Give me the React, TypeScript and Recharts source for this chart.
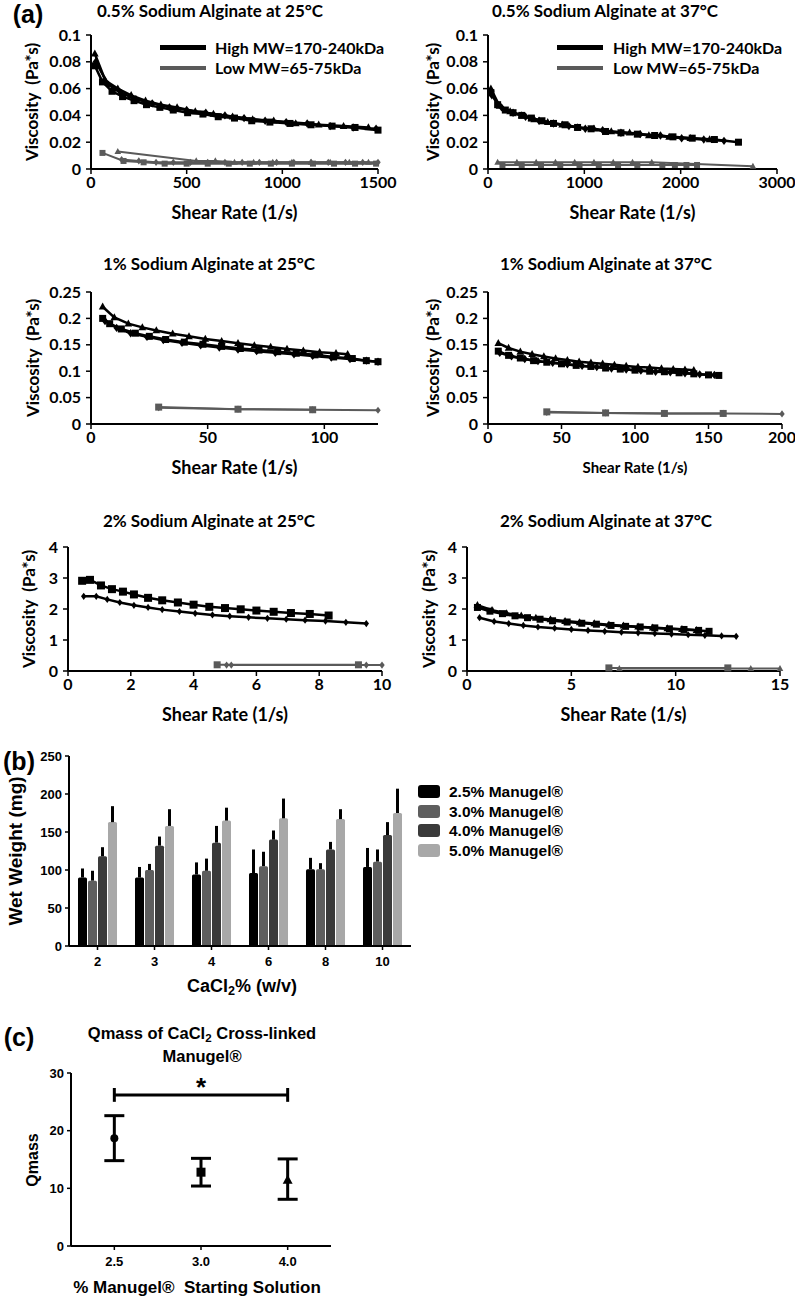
import React from 'react';
import {
  LineChart,
  Line,
  BarChart,
  Bar,
  ScatterChart,
  Scatter,
  XAxis,
  YAxis,
  ErrorBar,
  ReferenceLine,
} from 'recharts';

type Pt = [number, number];

// ---- (a) viscosity vs shear rate ----
// 0.5% at 25°C
const p05_25_hiSq: Pt[] = [[20, 0.077], [60, 0.065], [110, 0.058], [165, 0.054], [225, 0.051], [290, 0.048], [360, 0.046], [430, 0.044], [505, 0.042], [585, 0.041], [665, 0.039], [750, 0.038], [840, 0.036], [935, 0.035], [1040, 0.034], [1150, 0.033], [1260, 0.032], [1380, 0.031], [1500, 0.029]];
const p05_25_hiTri: Pt[] = [[20, 0.086], [75, 0.066], [140, 0.060], [210, 0.055], [285, 0.051], [365, 0.048], [450, 0.046], [545, 0.043], [640, 0.041], [740, 0.039], [845, 0.037], [955, 0.036], [1070, 0.034], [1190, 0.033], [1320, 0.032], [1450, 0.031]];
const p05_25_hiDia: Pt[] = [[25, 0.080], [90, 0.063], [155, 0.057], [235, 0.052], [320, 0.049], [410, 0.046], [500, 0.044], [600, 0.042], [700, 0.040], [800, 0.038], [910, 0.036], [1020, 0.035], [1130, 0.034], [1250, 0.032], [1370, 0.031], [1490, 0.030]];
const p05_25_loSq: Pt[] = [[60, 0.012], [170, 0.006], [275, 0.005], [385, 0.004], [500, 0.004], [610, 0.004], [720, 0.004], [830, 0.004], [940, 0.004], [1050, 0.004], [1160, 0.004], [1270, 0.004], [1380, 0.004], [1490, 0.004]];
const p05_25_loTri: Pt[] = [[140, 0.013], [550, 0.006], [650, 0.006], [750, 0.005], [850, 0.005], [950, 0.005], [1050, 0.005], [1150, 0.005], [1250, 0.005], [1350, 0.005], [1450, 0.005]];
const p05_25_loDia: Pt[] = [[160, 0.007], [250, 0.006], [340, 0.005], [430, 0.005], [520, 0.005], [610, 0.005], [700, 0.005], [790, 0.005], [880, 0.005], [970, 0.005], [1060, 0.005], [1150, 0.005], [1240, 0.005], [1330, 0.005], [1420, 0.005], [1500, 0.005]];

// 0.5% at 37°C
const p05_37_hiSq: Pt[] = [[30, 0.057], [100, 0.048], [180, 0.044], [260, 0.042], [350, 0.040], [450, 0.038], [560, 0.036], [680, 0.034], [800, 0.033], [930, 0.031], [1070, 0.030], [1220, 0.028], [1380, 0.027], [1550, 0.026], [1730, 0.025], [1920, 0.024], [2120, 0.023], [2350, 0.022], [2600, 0.020]];
const p05_37_hiTri: Pt[] = [[30, 0.060], [120, 0.047], [230, 0.043], [350, 0.040], [480, 0.037], [620, 0.035], [770, 0.033], [930, 0.031], [1100, 0.030], [1280, 0.028], [1470, 0.027], [1670, 0.025], [1880, 0.024], [2100, 0.023], [2300, 0.022]];
const p05_37_hiDia: Pt[] = [[40, 0.055], [140, 0.046], [260, 0.042], [390, 0.039], [530, 0.036], [680, 0.034], [840, 0.032], [1010, 0.030], [1190, 0.029], [1380, 0.027], [1580, 0.026], [1790, 0.025], [2010, 0.023], [2240, 0.022], [2450, 0.021]];
const p05_37_loTri: Pt[] = [[100, 0.005], [300, 0.005], [500, 0.005], [700, 0.005], [900, 0.005], [1100, 0.005], [1300, 0.005], [1500, 0.005], [1700, 0.005], [2750, 0.002]];
const p05_37_loSq: Pt[] = [[150, 0.003], [350, 0.003], [550, 0.003], [750, 0.003], [950, 0.003], [1150, 0.003], [1350, 0.003], [1550, 0.003], [1810, 0.003], [1940, 0.003], [2060, 0.003], [2170, 0.003]];

// 1% at 25°C
const p1_25_hiTri: Pt[] = [[5, 0.222], [10, 0.202], [16, 0.190], [22, 0.183], [28, 0.177], [35, 0.171], [42, 0.166], [49, 0.161], [56, 0.157], [63, 0.153], [70, 0.149], [77, 0.146], [84, 0.142], [91, 0.139], [98, 0.136], [105, 0.134], [110, 0.132]];
const p1_25_hiSq: Pt[] = [[5, 0.200], [8, 0.190], [13, 0.180], [19, 0.172], [25, 0.166], [32, 0.160], [40, 0.155], [48, 0.151], [56, 0.147], [64, 0.143], [72, 0.140], [80, 0.137], [88, 0.134], [96, 0.131], [104, 0.127], [112, 0.124], [118, 0.120], [123, 0.118]];
const p1_25_hiDia: Pt[] = [[6, 0.195], [11, 0.182], [17, 0.172], [24, 0.165], [31, 0.159], [39, 0.154], [47, 0.149], [55, 0.145], [63, 0.141], [71, 0.138], [79, 0.135], [87, 0.132], [95, 0.129], [103, 0.126], [111, 0.123], [118, 0.120], [123, 0.118]];
const p1_25_loSq: Pt[] = [[29, 0.032], [63, 0.028], [95, 0.027]];
const p1_25_loDia: Pt[] = [[29, 0.031], [63, 0.028], [95, 0.027], [123, 0.026]];

// 1% at 37°C
const p1_37_hiTri: Pt[] = [[7, 0.153], [14, 0.144], [22, 0.137], [30, 0.132], [38, 0.128], [46, 0.124], [54, 0.121], [62, 0.118], [70, 0.116], [78, 0.114], [86, 0.112], [94, 0.110], [102, 0.108], [110, 0.107], [118, 0.105], [126, 0.104], [134, 0.103], [140, 0.102]];
const p1_37_hiSq: Pt[] = [[7, 0.138], [14, 0.130], [22, 0.125], [31, 0.120], [40, 0.117], [50, 0.114], [60, 0.111], [70, 0.109], [80, 0.106], [90, 0.104], [100, 0.102], [110, 0.100], [120, 0.099], [130, 0.097], [140, 0.095], [150, 0.093], [157, 0.092]];
const p1_37_hiDia: Pt[] = [[8, 0.135], [16, 0.128], [25, 0.123], [34, 0.119], [44, 0.116], [54, 0.113], [64, 0.110], [74, 0.108], [84, 0.105], [94, 0.103], [104, 0.101], [114, 0.099], [124, 0.098], [134, 0.096], [144, 0.094], [154, 0.093]];
const p1_37_loSq: Pt[] = [[40, 0.023], [80, 0.021], [120, 0.020], [160, 0.020]];
const p1_37_loDia: Pt[] = [[40, 0.022], [80, 0.021], [120, 0.020], [160, 0.020], [200, 0.019]];

// 2% at 25°C
const p2_25_hiSq: Pt[] = [[0.45, 2.91], [0.7, 2.94], [1.05, 2.76], [1.4, 2.64], [1.75, 2.56], [2.1, 2.47], [2.55, 2.36], [3.0, 2.28], [3.5, 2.21], [4.0, 2.14], [4.5, 2.07], [5.0, 2.03], [5.5, 1.99], [6.0, 1.95], [6.55, 1.91], [7.1, 1.87], [7.7, 1.84], [8.3, 1.79]];
const p2_25_hiDia: Pt[] = [[0.5, 2.41], [0.9, 2.41], [1.25, 2.31], [1.65, 2.21], [2.1, 2.12], [2.55, 2.05], [3.0, 1.98], [3.55, 1.92], [4.05, 1.86], [4.6, 1.81], [5.15, 1.77], [5.75, 1.73], [6.35, 1.70], [6.95, 1.67], [7.55, 1.64], [8.2, 1.61], [8.85, 1.57], [9.5, 1.53]];
const p2_25_loSq: Pt[] = [[4.75, 0.2], [9.25, 0.2]];
const p2_25_loDia: Pt[] = [[5.05, 0.19], [5.2, 0.19], [9.5, 0.19], [10, 0.19]];

// 2% at 37°C
const p2_37_hiSq: Pt[] = [[0.5, 2.05], [1.1, 1.93], [1.7, 1.85], [2.3, 1.78], [2.9, 1.72], [3.5, 1.67], [4.1, 1.62], [4.8, 1.58], [5.5, 1.54], [6.2, 1.51], [6.9, 1.47], [7.6, 1.44], [8.3, 1.42], [9.0, 1.39], [9.7, 1.36], [10.4, 1.34], [11.1, 1.31], [11.6, 1.28]];
const p2_37_hiTri: Pt[] = [[0.5, 2.12], [1.2, 1.96], [1.9, 1.86], [2.6, 1.78], [3.3, 1.71], [4.0, 1.66], [4.7, 1.61], [5.4, 1.57], [6.1, 1.53], [6.8, 1.49], [7.5, 1.46], [8.2, 1.43], [8.9, 1.40], [9.6, 1.37], [10.3, 1.35], [11.0, 1.32]];
const p2_37_hiDia: Pt[] = [[0.6, 1.72], [1.3, 1.60], [2.0, 1.53], [2.7, 1.47], [3.4, 1.42], [4.2, 1.38], [5.0, 1.34], [5.8, 1.31], [6.6, 1.28], [7.4, 1.25], [8.2, 1.23], [9.0, 1.21], [9.8, 1.19], [10.6, 1.17], [11.4, 1.15], [12.2, 1.13], [12.9, 1.12]];
const p2_37_loSq: Pt[] = [[6.8, 0.1], [12.5, 0.1]];
const p2_37_loTri: Pt[] = [[7.3, 0.08], [13.6, 0.08], [15, 0.08]];

const visc05Ticks = [0, 0.02, 0.04, 0.06, 0.08, 0.1];
const visc1Ticks = [0, 0.05, 0.1, 0.15, 0.2, 0.25];
const visc2Ticks = [0, 1, 2, 3, 4];

// ---- (b) wet weight ----
const cacl2Cats = ['2', '3', '4', '6', '8', '10'];
const wet25 = [90, 90, 94, 96, 101, 104];
const wet25Err = [12, 14, 16, 31, 15, 25];
const wet30 = [86, 100, 99, 105, 101, 111];
const wet30Err = [13, 8, 16, 19, 8, 16];
const wet40 = [118, 132, 136, 140, 127, 146];
const wet40Err = [12, 12, 22, 12, 10, 17];
const wet50 = [163, 158, 165, 168, 167, 175];
const wet50Err = [21, 22, 17, 26, 13, 32];
const wetTicks = [0, 50, 100, 150, 200, 250];

// ---- (c) Qmass ----
const qmassLabels = ['2.5', '3.0', '4.0'];
const qmassMean = [18.7, 12.8, 11.4];
const qmassLow = [14.8, 10.4, 8.1];
const qmassHigh = [22.6, 15.2, 15.1];
const qmassTicks = [0, 10, 20, 30];
const sigLevel = 26.2;
const sigCapLow = 25.0;
const sigCapHigh = 27.4;

const FONT_A = 'Lato, "Open Sans", sans-serif';
const FONT_B = '"Liberation Sans", Arial, sans-serif';
const HI = '#000000';
const LO = '#5a5a5a';

type Shape = 'square' | 'triangle' | 'diamond' | 'circle';

const Mark = ({ cx, cy, shape, fill, size }: { cx?: number; cy?: number; shape: Shape; fill: string; size: number }) => {
  if (cx == null || cy == null) return <g />;
  const s = size;
  if (shape === 'square') return <rect x={cx - s / 2} y={cy - s / 2} width={s} height={s} fill={fill} />;
  if (shape === 'circle') return <circle cx={cx} cy={cy} r={s / 2} fill={fill} />;
  if (shape === 'triangle')
    return <polygon points={`${cx},${cy - s * 0.6} ${cx - s * 0.55},${cy + s * 0.4} ${cx + s * 0.55},${cy + s * 0.4}`} fill={fill} />;
  return <polygon points={`${cx},${cy - s * 0.6} ${cx + s * 0.45},${cy} ${cx},${cy + s * 0.6} ${cx - s * 0.45},${cy}`} fill={fill} />;
};

interface Series {
  pts: Pt[];
  color: string;
  width: number;
  shape: Shape;
  size: number;
}

interface PanelDef {
  id: string;
  title: string;
  titleX: number;
  titleY: number;
  rect: { x0: number; x1: number; y0: number; y1: number };
  xMax: number;
  xTicks: number[];
  yMax: number;
  yTicks: number[];
  yLabelX: number;
  xLabelSize: number;
  legend?: { lineX: number; textX: number };
  series: Series[];
}

const hi = (pts: Pt[], shape: Shape, size = 7): Series => ({ pts, color: HI, width: 2.5, shape, size });
const lo = (pts: Pt[], shape: Shape, size = 6): Series => ({ pts, color: LO, width: 2, shape, size });

const panels: PanelDef[] = [
  {
    id: 'p05_25', title: '0.5% Sodium Alginate at 25°C', titleX: 210, titleY: 10,
    rect: { x0: 91, x1: 378, y0: 35, y1: 169 }, xMax: 1500, xTicks: [0, 500, 1000, 1500],
    yMax: 0.1, yTicks: visc05Ticks, yLabelX: 31, xLabelSize: 18, legend: { lineX: 160, textX: 215 },
    series: [lo(p05_25_loDia, 'diamond'), lo(p05_25_loSq, 'square'), lo(p05_25_loTri, 'triangle'),
      hi(p05_25_hiDia, 'diamond'), hi(p05_25_hiSq, 'square'), hi(p05_25_hiTri, 'triangle')],
  },
  {
    id: 'p05_37', title: '0.5% Sodium Alginate at 37°C', titleX: 605, titleY: 10,
    rect: { x0: 488, x1: 777, y0: 35, y1: 169 }, xMax: 3000, xTicks: [0, 1000, 2000, 3000],
    yMax: 0.1, yTicks: visc05Ticks, yLabelX: 432, xLabelSize: 18, legend: { lineX: 557, textX: 613 },
    series: [lo(p05_37_loSq, 'square'), lo(p05_37_loTri, 'triangle'),
      hi(p05_37_hiDia, 'diamond'), hi(p05_37_hiSq, 'square'), hi(p05_37_hiTri, 'triangle')],
  },
  {
    id: 'p1_25', title: '1% Sodium Alginate at 25°C', titleX: 209, titleY: 263,
    rect: { x0: 91, x1: 378, y0: 292, y1: 424 }, xMax: 123, xTicks: [0, 50, 100],
    yMax: 0.25, yTicks: visc1Ticks, yLabelX: 32, xLabelSize: 18,
    series: [lo(p1_25_loDia, 'diamond'), lo(p1_25_loSq, 'square', 7),
      hi(p1_25_hiDia, 'diamond'), hi(p1_25_hiSq, 'square'), hi(p1_25_hiTri, 'triangle')],
  },
  {
    id: 'p1_37', title: '1% Sodium Alginate at 37°C', titleX: 606, titleY: 263,
    rect: { x0: 488, x1: 782, y0: 292, y1: 424 }, xMax: 200, xTicks: [0, 50, 100, 150, 200],
    yMax: 0.25, yTicks: visc1Ticks, yLabelX: 432, xLabelSize: 15,
    series: [lo(p1_37_loDia, 'diamond'), lo(p1_37_loSq, 'square', 7),
      hi(p1_37_hiDia, 'diamond'), hi(p1_37_hiSq, 'square'), hi(p1_37_hiTri, 'triangle')],
  },
  {
    id: 'p2_25', title: '2% Sodium Alginate at 25°C', titleX: 209, titleY: 520,
    rect: { x0: 68, x1: 382, y0: 547, y1: 671 }, xMax: 10, xTicks: [0, 2, 4, 6, 8, 10],
    yMax: 4, yTicks: visc2Ticks, yLabelX: 28, xLabelSize: 18,
    series: [lo(p2_25_loDia, 'diamond'), lo(p2_25_loSq, 'square', 7),
      hi(p2_25_hiDia, 'diamond', 6), hi(p2_25_hiSq, 'square', 8)],
  },
  {
    id: 'p2_37', title: '2% Sodium Alginate at 37°C', titleX: 606, titleY: 520,
    rect: { x0: 467, x1: 780, y0: 547, y1: 671 }, xMax: 15, xTicks: [0, 5, 10, 15],
    yMax: 4, yTicks: visc2Ticks, yLabelX: 428, xLabelSize: 18,
    series: [lo(p2_37_loTri, 'triangle'), lo(p2_37_loSq, 'square', 7),
      hi(p2_37_hiDia, 'diamond', 6), hi(p2_37_hiSq, 'square'), hi(p2_37_hiTri, 'triangle')],
  },
];

const toPts = (arr: Pt[]) => arr.map(([x, y]) => ({ x, y }));

// absolutely placed text, centred on (x, y)
const Txt: React.FC<{ x: number; y: number; size: number; family: string; weight?: number; rotate?: boolean; children: React.ReactNode }> = ({
  x, y, size, family, weight = 700, rotate = false, children,
}) => (
  <div
    style={{
      position: 'absolute', left: x, top: y, whiteSpace: 'pre', lineHeight: 1,
      fontSize: size, fontFamily: family, fontWeight: weight, color: '#000',
      transform: `translate(-50%, -50%)${rotate ? ' rotate(-90deg)' : ''}`,
    }}
  >
    {children}
  </div>
);

const PL = 70;
const PT = 12;
const PR = 32;
const PB = 34;

const axisA = { stroke: '#000', strokeWidth: 2 };
const tickA = { fill: '#000', fontSize: 16, fontWeight: 700, fontFamily: FONT_A };

const ViscPanel: React.FC<{ p: PanelDef }> = ({ p }) => {
  const { rect } = p;
  const w = rect.x1 - rect.x0 + PL + PR;
  const h = rect.y1 - rect.y0 + PT + PB;
  const midX = (rect.x0 + rect.x1) / 2;
  const midY = (rect.y0 + rect.y1) / 2;
  return (
    <>
      <Txt x={p.titleX} y={p.titleY} size={17} family={FONT_A}>{p.title}</Txt>
      <Txt x={p.yLabelX} y={midY} size={17} family={FONT_A} rotate>{'Viscosity  (Pa*s)'}</Txt>
      <Txt x={midX} y={rect.y1 + 43} size={p.xLabelSize} family={FONT_A}>Shear Rate (1/s)</Txt>
      <div style={{ position: 'absolute', left: rect.x0 - PL, top: rect.y0 - PT }}>
        <LineChart width={w} height={h} margin={{ top: PT, right: PR, left: 0, bottom: 0 }}>
          <XAxis type="number" dataKey="x" domain={[0, p.xMax]} ticks={p.xTicks} interval={0} height={PB}
            axisLine={axisA} tickLine={{ stroke: '#000', strokeWidth: 1.5 }} tickSize={5} tickMargin={3} tick={tickA} />
          <YAxis type="number" domain={[0, p.yMax]} ticks={p.yTicks} interval={0} width={PL}
            axisLine={axisA} tickLine={{ stroke: '#000', strokeWidth: 1.5 }} tickSize={5} tickMargin={5} tick={tickA} />
          {p.series.map((s, i) => (
            <Line key={`${p.id}-${i}`} data={toPts(s.pts)} dataKey="y" type="linear" stroke={s.color}
              strokeWidth={s.width} isAnimationActive={false} legendType="none"
              dot={(d: any) => <Mark key={`${p.id}-${i}-${d.index}`} cx={d.cx} cy={d.cy} shape={s.shape} fill={s.color} size={s.size} />}
              activeDot={false} />
          ))}
        </LineChart>
      </div>
      {p.legend && (
        <>
          <div style={{ position: 'absolute', left: p.legend.lineX, top: rect.y0 + 10, width: 46, height: 5, background: HI }} />
          <Txt x={p.legend.textX} y={rect.y0 + 13} size={16} family={FONT_A}>
            <span style={{ position: 'relative', left: '50%' }}>High MW=170-240kDa</span>
          </Txt>
          <div style={{ position: 'absolute', left: p.legend.lineX, top: rect.y0 + 31, width: 46, height: 4, background: LO }} />
          <Txt x={p.legend.textX} y={rect.y0 + 33} size={16} family={FONT_A}>
            <span style={{ position: 'relative', left: '50%' }}>Low MW=65-75kDa</span>
          </Txt>
        </>
      )}
    </>
  );
};

// ---- (b) ----
const wetRows = cacl2Cats.map((c, i) => ({
  cat: c,
  w25: wet25[i], e25: [0, wet25Err[i]],
  w30: wet30[i], e30: [0, wet30Err[i]],
  w40: wet40[i], e40: [0, wet40Err[i]],
  w50: wet50[i], e50: [0, wet50Err[i]],
}));

const wetSeries = [
  { key: 'w25', err: 'e25', name: '2.5% Manugel®', color: '#000000' },
  { key: 'w30', err: 'e30', name: '3.0% Manugel®', color: '#5e5e5e' },
  { key: 'w40', err: 'e40', name: '4.0% Manugel®', color: '#3a3a3a' },
  { key: 'w50', err: 'e50', name: '5.0% Manugel®', color: '#a8a8a8' },
];

const B = { x0: 69, x1: 411, y0: 756, y1: 946 };
const C = { x0: 71, x1: 331, y0: 1073, y1: 1246 };
const tickB = { fill: '#000', fontSize: 13, fontWeight: 700, fontFamily: FONT_B };

const WetWeightChart: React.FC = () => (
  <>
    <div style={{ position: 'absolute', left: B.x0 - 60, top: B.y0 - 10 }}>
      <BarChart width={B.x1 - B.x0 + 64} height={B.y1 - B.y0 + 40} data={wetRows}
        margin={{ top: 10, right: 4, left: 0, bottom: 0 }} barGap={1}>
        <XAxis dataKey="cat" height={30} axisLine={axisA} tickLine={{ stroke: '#000', strokeWidth: 1.5 }}
          tickSize={4} tickMargin={7} tick={tickB} interval={0} />
        <YAxis type="number" domain={[0, 250]} ticks={wetTicks} interval={0} width={60}
          axisLine={axisA} tickLine={{ stroke: '#000', strokeWidth: 1.5 }} tickSize={4} tickMargin={3} tick={tickB} />
        {wetSeries.map((s) => (
          <Bar key={s.key} dataKey={s.key} fill={s.color} barSize={9} radius={[1.5, 1.5, 0, 0]} isAnimationActive={false}>
            <ErrorBar dataKey={s.err} direction="y" width={0} stroke="#000" strokeWidth={3} />
          </Bar>
        ))}
      </BarChart>
    </div>
    {wetSeries.map((s, i) => (
      <React.Fragment key={s.key}>
        <div style={{ position: 'absolute', left: 418, top: 785 + i * 19.7, width: 22, height: 13, borderRadius: 3, background: s.color }} />
        <div style={{ position: 'absolute', left: 449, top: 792 + i * 19.7, transform: 'translateY(-50%)', fontFamily: FONT_B, fontWeight: 700, fontSize: 15.5, lineHeight: 1, whiteSpace: 'pre' }}>
          {s.name}
        </div>
      </React.Fragment>
    ))}
    <Txt x={15} y={851} size={19} family={FONT_B} rotate>Wet Weight (mg)</Txt>
    <Txt x={242} y={987} size={18} family={FONT_B}>
      CaCl<sub style={{ fontSize: '0.7em', verticalAlign: '-0.25em' }}>2</sub>% (w/v)
    </Txt>
  </>
);

// ---- (c) ----
const qShapes: Shape[] = ['circle', 'square', 'triangle'];
const qmassSeries = qmassMean.map((m, i) => [{ i, q: m, err: [m - qmassLow[i], qmassHigh[i] - m] }]);

const QmassChart: React.FC = () => (
  <>
    <Txt x={202} y={1035} size={16.5} family={FONT_B}>
      Qmass of CaCl<sub style={{ fontSize: '0.7em', verticalAlign: '-0.25em' }}>2</sub> Cross-linked
    </Txt>
    <Txt x={202} y={1056} size={16.5} family={FONT_B}>Manugel®</Txt>
    <Txt x={33} y={1160} size={16} family={FONT_B} rotate>Qmass</Txt>
    <Txt x={197} y={1287} size={17} family={FONT_B}>{'% Manugel®  Starting Solution'}</Txt>
    <div style={{ position: 'absolute', left: C.x0 - 60, top: C.y0 - 10 }}>
      <ScatterChart width={C.x1 - C.x0 + 64} height={C.y1 - C.y0 + 40} margin={{ top: 10, right: 4, left: 0, bottom: 0 }}>
        <XAxis type="number" dataKey="i" domain={[-0.5, 2.5]} ticks={[0, 1, 2]} interval={0} height={30}
          tickFormatter={(v: number) => qmassLabels[v]} axisLine={axisA} tickLine={{ stroke: '#000', strokeWidth: 1.5 }}
          tickSize={4} tickMargin={7} tick={tickB} />
        <YAxis type="number" dataKey="q" domain={[0, 30]} ticks={qmassTicks} interval={0} width={60}
          axisLine={axisA} tickLine={{ stroke: '#000', strokeWidth: 1.5 }} tickSize={4} tickMargin={3} tick={tickB} />
        <ReferenceLine segment={[{ x: 0, y: sigLevel }, { x: 2, y: sigLevel }]} stroke="#000" strokeWidth={3} ifOverflow="visible"
          label={{ value: '*', position: 'center', dy: -8, fontSize: 26, fontWeight: 700, fontFamily: FONT_B, fill: '#000' }} />
        <ReferenceLine segment={[{ x: 0, y: sigCapLow }, { x: 0, y: sigCapHigh }]} stroke="#000" strokeWidth={3} ifOverflow="visible" />
        <ReferenceLine segment={[{ x: 2, y: sigCapLow }, { x: 2, y: sigCapHigh }]} stroke="#000" strokeWidth={3} ifOverflow="visible" />
        {qmassSeries.map((d, k) => (
          <Scatter key={k} data={d} fill="#000" isAnimationActive={false}
            shape={(pr: any) => <Mark cx={pr.cx} cy={pr.cy} shape={qShapes[k]} fill="#000" size={k === 0 ? 8 : 9} />}>
            <ErrorBar dataKey="err" direction="y" width={10} stroke="#000" strokeWidth={3} />
          </Scatter>
        ))}
      </ScatterChart>
    </div>
  </>
);

export default function App() {
  return (
    <div style={{ position: 'absolute', left: 0, top: 0, width: 795, height: 1298, background: '#fff', overflow: 'hidden' }}>
      <Txt x={28} y={14} size={25} family={FONT_B}>(a)</Txt>
      {panels.map((p) => (
        <ViscPanel key={p.id} p={p} />
      ))}
      <Txt x={19} y={761} size={25} family={FONT_B}>(b)</Txt>
      <WetWeightChart />
      <Txt x={19} y={1037} size={25} family={FONT_B}>(c)</Txt>
      <QmassChart />
    </div>
  );
}
